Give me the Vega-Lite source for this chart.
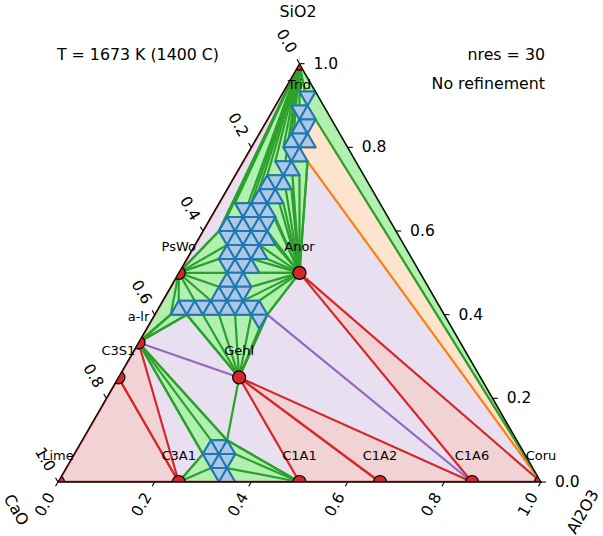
{
  "$schema": "https://vega.github.io/schema/vega-lite/v6.json",
  "width": 603,
  "height": 536,
  "autosize": "none",
  "padding": 0,
  "background": "white",
  "config": {"view": {"stroke": null}, "font": "DejaVu Sans"},
  "datasets": {
    "phases": [
      {"name": "Trid", "x": 0.5, "y": 0.86603},
      {"name": "PsWo", "x": 0.25, "y": 0.43301},
      {"name": "a-lr", "x": 0.16667, "y": 0.28868},
      {"name": "C3S1", "x": 0.125, "y": 0.21651},
      {"name": "Lime", "x": 0, "y": 0},
      {"name": "C3A1", "x": 0.25, "y": 0},
      {"name": "C1A1", "x": 0.5, "y": 0},
      {"name": "C1A2", "x": 0.66667, "y": 0},
      {"name": "C1A6", "x": 0.85714, "y": 0},
      {"name": "Coru", "x": 1, "y": 0},
      {"name": "Anor", "x": 0.5, "y": 0.43301},
      {"name": "Gehl", "x": 0.375, "y": 0.21651}
    ],
    "regions": [
      {"id": "bg", "kind": "lav", "x": [0, 1, 0.5, 0], "y": [0, 0, 0.86603, 0], "k": [0, 1, 2, 3]},
      {"id": "r1", "kind": "red", "x": [0, 0.125, 0.25, 0], "y": [0, 0.21651, 0, 0], "k": [0, 1, 2, 3]},
      {"id": "r2", "kind": "red", "x": [0.125, 0.16667, 0.25, 0.125], "y": [0.21651, 0.28868, 0, 0.21651], "k": [0, 1, 2, 3]},
      {"id": "r3", "kind": "red", "x": [0.375, 0.5, 0.66667, 0.375], "y": [0.21651, 0, 0, 0.21651], "k": [0, 1, 2, 3]},
      {"id": "r4", "kind": "red", "x": [0.375, 0.66667, 0.85714, 0.375], "y": [0.21651, 0, 0, 0.21651], "k": [0, 1, 2, 3]},
      {"id": "r5", "kind": "red", "x": [0.5, 0.85714, 1, 0.5], "y": [0.43301, 0, 0, 0.43301], "k": [0, 1, 2, 3]},
      {"id": "o1", "kind": "org", "x": [1, 0.51667, 0.5, 0.53333, 0.51667, 0.53333, 1], "y": [0, 0.66395, 0.69282, 0.69282, 0.72169, 0.75056, 0], "k": [0, 1, 2, 3, 4, 5, 6]},
      {"id": "gband", "kind": "grn", "x": [0.53333, 0.51667, 0.53333, 1, 0.53333], "y": [0.80829, 0.77942, 0.75056, 0, 0.80829], "k": [0, 1, 2, 3, 4]},
      {"id": "gtrid", "kind": "grn",
       "x": [0.5, 0.53333, 0.5, 0.51667, 0.48333, 0.5, 0.48333, 0.46667, 0.48333, 0.45, 0.46667, 0.43333, 0.41667, 0.4, 0.36667, 0.38333, 0.35, 0.33333, 0.5],
       "y": [0.86603, 0.80829, 0.80829, 0.77942, 0.77942, 0.75056, 0.72169, 0.69282, 0.66395, 0.66395, 0.63509, 0.63509, 0.60622, 0.57735, 0.57735, 0.54848, 0.54848, 0.51962, 0.86603],
       "k": [0, 1, 2, 3, 4, 5, 6, 7, 8, 9, 10, 11, 12, 13, 14, 15, 16, 17, 18]},
      {"id": "gpswo", "kind": "grn",
       "x": [0.25, 0.33333, 0.35, 0.33333, 0.35, 0.33333, 0.31667, 0.28333, 0.25, 0.23333, 0.16667, 0.25],
       "y": [0.43301, 0.51962, 0.49075, 0.46188, 0.43301, 0.40415, 0.37528, 0.37528, 0.37528, 0.34641, 0.28868, 0.43301],
       "k": [0, 1, 2, 3, 4, 5, 6, 7, 8, 9, 10, 11]},
      {"id": "gc2s", "kind": "grn", "x": [0.16667, 0.23333, 0.26667, 0.16667], "y": [0.28868, 0.34641, 0.34641, 0.28868], "k": [0, 1, 2, 3]},
      {"id": "ggehl", "kind": "grn",
       "x": [0.375, 0.26667, 0.3, 0.33333, 0.36667, 0.4, 0.41667, 0.43333, 0.375],
       "y": [0.21651, 0.34641, 0.34641, 0.34641, 0.34641, 0.34641, 0.31754, 0.34641, 0.21651],
       "k": [0, 1, 2, 3, 4, 5, 6, 7, 8]},
      {"id": "ganor", "kind": "grn",
       "x": [0.5, 0.51667, 0.48333, 0.5, 0.46667, 0.48333, 0.45, 0.46667, 0.43333, 0.45, 0.43333, 0.45, 0.41667, 0.43333, 0.4, 0.41667, 0.38333, 0.4, 0.38333, 0.41667, 0.43333, 0.5],
       "y": [0.43301, 0.66395, 0.66395, 0.63509, 0.63509, 0.60622, 0.60622, 0.57735, 0.57735, 0.54848, 0.51962, 0.49075, 0.49075, 0.46188, 0.46188, 0.43301, 0.43301, 0.40415, 0.37528, 0.37528, 0.34641, 0.43301],
       "k": [0, 1, 2, 3, 4, 5, 6, 7, 8, 9, 10, 11, 12, 13, 14, 15, 16, 17, 18, 19, 20, 21]},
      {"id": "gc2slow", "kind": "grn", "x": [0.16667, 0.35, 0.31667, 0.3, 0.16667], "y": [0.28868, 0.0866, 0.0866, 0.05774, 0.28868], "k": [0, 1, 2, 3, 4]},
      {"id": "gc3a1", "kind": "grn", "x": [0.25, 0.3, 0.31667, 0.33333, 0.25], "y": [0, 0.05774, 0.02887, 0, 0], "k": [0, 1, 2, 3, 4]},
      {"id": "gc1a1", "kind": "grn", "x": [0.5, 0.35, 0.36667, 0.35, 0.36667, 0.5], "y": [0, 0.0866, 0.05774, 0.02887, 0, 0], "k": [0, 1, 2, 3, 4, 5]}
    ],
    "spokes": [
      {"s": "Trid", "x2": 0.53333, "y2": 0.80829}, {"s": "Trid", "x2": 0.5, "y2": 0.80829},
      {"s": "Trid", "x2": 0.51667, "y2": 0.77942}, {"s": "Trid", "x2": 0.48333, "y2": 0.77942},
      {"s": "Trid", "x2": 0.5, "y2": 0.75056}, {"s": "Trid", "x2": 0.48333, "y2": 0.72169},
      {"s": "Trid", "x2": 0.46667, "y2": 0.69282}, {"s": "Trid", "x2": 0.48333, "y2": 0.66395},
      {"s": "Trid", "x2": 0.45, "y2": 0.66395}, {"s": "Trid", "x2": 0.46667, "y2": 0.63509},
      {"s": "Trid", "x2": 0.43333, "y2": 0.63509}, {"s": "Trid", "x2": 0.41667, "y2": 0.60622},
      {"s": "Trid", "x2": 0.4, "y2": 0.57735}, {"s": "Trid", "x2": 0.36667, "y2": 0.57735},
      {"s": "Trid", "x2": 0.38333, "y2": 0.54848}, {"s": "Trid", "x2": 0.35, "y2": 0.54848},
      {"s": "Trid", "x2": 0.33333, "y2": 0.51962},
      {"s": "PsWo", "x2": 0.33333, "y2": 0.51962}, {"s": "PsWo", "x2": 0.35, "y2": 0.49075},
      {"s": "PsWo", "x2": 0.33333, "y2": 0.46188}, {"s": "PsWo", "x2": 0.35, "y2": 0.43301},
      {"s": "PsWo", "x2": 0.33333, "y2": 0.40415}, {"s": "PsWo", "x2": 0.31667, "y2": 0.37528},
      {"s": "PsWo", "x2": 0.28333, "y2": 0.37528}, {"s": "PsWo", "x2": 0.25, "y2": 0.37528},
      {"s": "PsWo", "x2": 0.23333, "y2": 0.34641},
      {"s": "a-lr", "x2": 0.23333, "y2": 0.34641}, {"s": "a-lr", "x2": 0.26667, "y2": 0.34641},
      {"s": "a-lr", "x2": 0.35, "y2": 0.0866}, {"s": "a-lr", "x2": 0.31667, "y2": 0.0866},
      {"s": "a-lr", "x2": 0.3, "y2": 0.05774},
      {"s": "Gehl", "x2": 0.26667, "y2": 0.34641}, {"s": "Gehl", "x2": 0.3, "y2": 0.34641},
      {"s": "Gehl", "x2": 0.33333, "y2": 0.34641}, {"s": "Gehl", "x2": 0.36667, "y2": 0.34641},
      {"s": "Gehl", "x2": 0.4, "y2": 0.34641}, {"s": "Gehl", "x2": 0.41667, "y2": 0.31754},
      {"s": "Gehl", "x2": 0.43333, "y2": 0.34641}, {"s": "Gehl", "x2": 0.35, "y2": 0.0866},
      {"s": "Anor", "x2": 0.51667, "y2": 0.66395}, {"s": "Anor", "x2": 0.48333, "y2": 0.66395},
      {"s": "Anor", "x2": 0.5, "y2": 0.63509}, {"s": "Anor", "x2": 0.46667, "y2": 0.63509},
      {"s": "Anor", "x2": 0.48333, "y2": 0.60622}, {"s": "Anor", "x2": 0.45, "y2": 0.60622},
      {"s": "Anor", "x2": 0.46667, "y2": 0.57735}, {"s": "Anor", "x2": 0.43333, "y2": 0.57735},
      {"s": "Anor", "x2": 0.45, "y2": 0.54848}, {"s": "Anor", "x2": 0.43333, "y2": 0.51962},
      {"s": "Anor", "x2": 0.45, "y2": 0.49075}, {"s": "Anor", "x2": 0.41667, "y2": 0.49075},
      {"s": "Anor", "x2": 0.43333, "y2": 0.46188}, {"s": "Anor", "x2": 0.4, "y2": 0.46188},
      {"s": "Anor", "x2": 0.41667, "y2": 0.43301}, {"s": "Anor", "x2": 0.38333, "y2": 0.43301},
      {"s": "Anor", "x2": 0.4, "y2": 0.40415}, {"s": "Anor", "x2": 0.38333, "y2": 0.37528},
      {"s": "Anor", "x2": 0.41667, "y2": 0.37528}, {"s": "Anor", "x2": 0.43333, "y2": 0.34641},
      {"s": "C3A1", "x2": 0.3, "y2": 0.05774}, {"s": "C3A1", "x2": 0.31667, "y2": 0.02887},
      {"s": "C3A1", "x2": 0.33333, "y2": 0},
      {"s": "C1A1", "x2": 0.35, "y2": 0.0866}, {"s": "C1A1", "x2": 0.36667, "y2": 0.05774},
      {"s": "C1A1", "x2": 0.35, "y2": 0.02887}, {"s": "C1A1", "x2": 0.36667, "y2": 0}
    ],
    "liquid": [
      {"id": 1, "x": [0.51667, 0.5, 0.53333, 0.51667], "y": [0.77942, 0.80829, 0.80829, 0.77942], "k": [0, 1, 2, 3]},
      {"id": 2, "x": [0.5, 0.48333, 0.51667, 0.5], "y": [0.75056, 0.77942, 0.77942, 0.75056], "k": [0, 1, 2, 3]},
      {"id": 3, "x": [0.5, 0.53333, 0.51667, 0.5], "y": [0.75056, 0.75056, 0.77942, 0.75056], "k": [0, 1, 2, 3]},
      {"id": 4, "x": [0.48333, 0.51667, 0.5, 0.48333], "y": [0.72169, 0.72169, 0.75056, 0.72169], "k": [0, 1, 2, 3]},
      {"id": 5, "x": [0.51667, 0.5, 0.53333, 0.51667], "y": [0.72169, 0.75056, 0.75056, 0.72169], "k": [0, 1, 2, 3]},
      {"id": 6, "x": [0.46667, 0.5, 0.48333, 0.46667], "y": [0.69282, 0.69282, 0.72169, 0.69282], "k": [0, 1, 2, 3]},
      {"id": 7, "x": [0.5, 0.48333, 0.51667, 0.5], "y": [0.69282, 0.72169, 0.72169, 0.69282], "k": [0, 1, 2, 3]},
      {"id": 8, "x": [0.5, 0.53333, 0.51667, 0.5], "y": [0.69282, 0.69282, 0.72169, 0.69282], "k": [0, 1, 2, 3]},
      {"id": 9, "x": [0.48333, 0.46667, 0.5, 0.48333], "y": [0.66395, 0.69282, 0.69282, 0.66395], "k": [0, 1, 2, 3]},
      {"id": 10, "x": [0.48333, 0.51667, 0.5, 0.48333], "y": [0.66395, 0.66395, 0.69282, 0.66395], "k": [0, 1, 2, 3]},
      {"id": 11, "x": [0.46667, 0.45, 0.48333, 0.46667], "y": [0.63509, 0.66395, 0.66395, 0.63509], "k": [0, 1, 2, 3]},
      {"id": 12, "x": [0.46667, 0.5, 0.48333, 0.46667], "y": [0.63509, 0.63509, 0.66395, 0.63509], "k": [0, 1, 2, 3]},
      {"id": 13, "x": [0.41667, 0.45, 0.43333, 0.41667], "y": [0.60622, 0.60622, 0.63509, 0.60622], "k": [0, 1, 2, 3]},
      {"id": 14, "x": [0.45, 0.43333, 0.46667, 0.45], "y": [0.60622, 0.63509, 0.63509, 0.60622], "k": [0, 1, 2, 3]},
      {"id": 15, "x": [0.45, 0.48333, 0.46667, 0.45], "y": [0.60622, 0.60622, 0.63509, 0.60622], "k": [0, 1, 2, 3]},
      {"id": 16, "x": [0.4, 0.43333, 0.41667, 0.4], "y": [0.57735, 0.57735, 0.60622, 0.57735], "k": [0, 1, 2, 3]},
      {"id": 17, "x": [0.43333, 0.41667, 0.45, 0.43333], "y": [0.57735, 0.60622, 0.60622, 0.57735], "k": [0, 1, 2, 3]},
      {"id": 18, "x": [0.43333, 0.46667, 0.45, 0.43333], "y": [0.57735, 0.57735, 0.60622, 0.57735], "k": [0, 1, 2, 3]},
      {"id": 19, "x": [0.38333, 0.36667, 0.4, 0.38333], "y": [0.54848, 0.57735, 0.57735, 0.54848], "k": [0, 1, 2, 3]},
      {"id": 20, "x": [0.38333, 0.41667, 0.4, 0.38333], "y": [0.54848, 0.54848, 0.57735, 0.54848], "k": [0, 1, 2, 3]},
      {"id": 21, "x": [0.41667, 0.4, 0.43333, 0.41667], "y": [0.54848, 0.57735, 0.57735, 0.54848], "k": [0, 1, 2, 3]},
      {"id": 22, "x": [0.41667, 0.45, 0.43333, 0.41667], "y": [0.54848, 0.54848, 0.57735, 0.54848], "k": [0, 1, 2, 3]},
      {"id": 23, "x": [0.33333, 0.36667, 0.35, 0.33333], "y": [0.51962, 0.51962, 0.54848, 0.51962], "k": [0, 1, 2, 3]},
      {"id": 24, "x": [0.36667, 0.35, 0.38333, 0.36667], "y": [0.51962, 0.54848, 0.54848, 0.51962], "k": [0, 1, 2, 3]},
      {"id": 25, "x": [0.36667, 0.4, 0.38333, 0.36667], "y": [0.51962, 0.51962, 0.54848, 0.51962], "k": [0, 1, 2, 3]},
      {"id": 26, "x": [0.4, 0.38333, 0.41667, 0.4], "y": [0.51962, 0.54848, 0.54848, 0.51962], "k": [0, 1, 2, 3]},
      {"id": 27, "x": [0.4, 0.43333, 0.41667, 0.4], "y": [0.51962, 0.51962, 0.54848, 0.51962], "k": [0, 1, 2, 3]},
      {"id": 28, "x": [0.43333, 0.41667, 0.45, 0.43333], "y": [0.51962, 0.54848, 0.54848, 0.51962], "k": [0, 1, 2, 3]},
      {"id": 29, "x": [0.35, 0.33333, 0.36667, 0.35], "y": [0.49075, 0.51962, 0.51962, 0.49075], "k": [0, 1, 2, 3]},
      {"id": 30, "x": [0.35, 0.38333, 0.36667, 0.35], "y": [0.49075, 0.49075, 0.51962, 0.49075], "k": [0, 1, 2, 3]},
      {"id": 31, "x": [0.38333, 0.36667, 0.4, 0.38333], "y": [0.49075, 0.51962, 0.51962, 0.49075], "k": [0, 1, 2, 3]},
      {"id": 32, "x": [0.38333, 0.41667, 0.4, 0.38333], "y": [0.49075, 0.49075, 0.51962, 0.49075], "k": [0, 1, 2, 3]},
      {"id": 33, "x": [0.41667, 0.4, 0.43333, 0.41667], "y": [0.49075, 0.51962, 0.51962, 0.49075], "k": [0, 1, 2, 3]},
      {"id": 34, "x": [0.41667, 0.45, 0.43333, 0.41667], "y": [0.49075, 0.49075, 0.51962, 0.49075], "k": [0, 1, 2, 3]},
      {"id": 35, "x": [0.33333, 0.36667, 0.35, 0.33333], "y": [0.46188, 0.46188, 0.49075, 0.46188], "k": [0, 1, 2, 3]},
      {"id": 36, "x": [0.36667, 0.35, 0.38333, 0.36667], "y": [0.46188, 0.49075, 0.49075, 0.46188], "k": [0, 1, 2, 3]},
      {"id": 37, "x": [0.36667, 0.4, 0.38333, 0.36667], "y": [0.46188, 0.46188, 0.49075, 0.46188], "k": [0, 1, 2, 3]},
      {"id": 38, "x": [0.4, 0.38333, 0.41667, 0.4], "y": [0.46188, 0.49075, 0.49075, 0.46188], "k": [0, 1, 2, 3]},
      {"id": 39, "x": [0.4, 0.43333, 0.41667, 0.4], "y": [0.46188, 0.46188, 0.49075, 0.46188], "k": [0, 1, 2, 3]},
      {"id": 40, "x": [0.35, 0.33333, 0.36667, 0.35], "y": [0.43301, 0.46188, 0.46188, 0.43301], "k": [0, 1, 2, 3]},
      {"id": 41, "x": [0.35, 0.38333, 0.36667, 0.35], "y": [0.43301, 0.43301, 0.46188, 0.43301], "k": [0, 1, 2, 3]},
      {"id": 42, "x": [0.38333, 0.36667, 0.4, 0.38333], "y": [0.43301, 0.46188, 0.46188, 0.43301], "k": [0, 1, 2, 3]},
      {"id": 43, "x": [0.38333, 0.41667, 0.4, 0.38333], "y": [0.43301, 0.43301, 0.46188, 0.43301], "k": [0, 1, 2, 3]},
      {"id": 44, "x": [0.33333, 0.36667, 0.35, 0.33333], "y": [0.40415, 0.40415, 0.43301, 0.40415], "k": [0, 1, 2, 3]},
      {"id": 45, "x": [0.36667, 0.35, 0.38333, 0.36667], "y": [0.40415, 0.43301, 0.43301, 0.40415], "k": [0, 1, 2, 3]},
      {"id": 46, "x": [0.36667, 0.4, 0.38333, 0.36667], "y": [0.40415, 0.40415, 0.43301, 0.40415], "k": [0, 1, 2, 3]},
      {"id": 47, "x": [0.31667, 0.35, 0.33333, 0.31667], "y": [0.37528, 0.37528, 0.40415, 0.37528], "k": [0, 1, 2, 3]},
      {"id": 48, "x": [0.35, 0.33333, 0.36667, 0.35], "y": [0.37528, 0.40415, 0.40415, 0.37528], "k": [0, 1, 2, 3]},
      {"id": 49, "x": [0.35, 0.38333, 0.36667, 0.35], "y": [0.37528, 0.37528, 0.40415, 0.37528], "k": [0, 1, 2, 3]},
      {"id": 50, "x": [0.38333, 0.36667, 0.4, 0.38333], "y": [0.37528, 0.40415, 0.40415, 0.37528], "k": [0, 1, 2, 3]},
      {"id": 51, "x": [0.23333, 0.26667, 0.25, 0.23333], "y": [0.34641, 0.34641, 0.37528, 0.34641], "k": [0, 1, 2, 3]},
      {"id": 52, "x": [0.26667, 0.25, 0.28333, 0.26667], "y": [0.34641, 0.37528, 0.37528, 0.34641], "k": [0, 1, 2, 3]},
      {"id": 53, "x": [0.26667, 0.3, 0.28333, 0.26667], "y": [0.34641, 0.34641, 0.37528, 0.34641], "k": [0, 1, 2, 3]},
      {"id": 54, "x": [0.3, 0.28333, 0.31667, 0.3], "y": [0.34641, 0.37528, 0.37528, 0.34641], "k": [0, 1, 2, 3]},
      {"id": 55, "x": [0.3, 0.33333, 0.31667, 0.3], "y": [0.34641, 0.34641, 0.37528, 0.34641], "k": [0, 1, 2, 3]},
      {"id": 56, "x": [0.33333, 0.31667, 0.35, 0.33333], "y": [0.34641, 0.37528, 0.37528, 0.34641], "k": [0, 1, 2, 3]},
      {"id": 57, "x": [0.33333, 0.36667, 0.35, 0.33333], "y": [0.34641, 0.34641, 0.37528, 0.34641], "k": [0, 1, 2, 3]},
      {"id": 58, "x": [0.36667, 0.35, 0.38333, 0.36667], "y": [0.34641, 0.37528, 0.37528, 0.34641], "k": [0, 1, 2, 3]},
      {"id": 59, "x": [0.36667, 0.4, 0.38333, 0.36667], "y": [0.34641, 0.34641, 0.37528, 0.34641], "k": [0, 1, 2, 3]},
      {"id": 60, "x": [0.4, 0.38333, 0.41667, 0.4], "y": [0.34641, 0.37528, 0.37528, 0.34641], "k": [0, 1, 2, 3]},
      {"id": 61, "x": [0.4, 0.43333, 0.41667, 0.4], "y": [0.34641, 0.34641, 0.37528, 0.34641], "k": [0, 1, 2, 3]},
      {"id": 62, "x": [0.41667, 0.4, 0.43333, 0.41667], "y": [0.31754, 0.34641, 0.34641, 0.31754], "k": [0, 1, 2, 3]},
      {"id": 63, "x": [0.3, 0.33333, 0.31667, 0.3], "y": [0.05774, 0.05774, 0.0866, 0.05774], "k": [0, 1, 2, 3]},
      {"id": 64, "x": [0.33333, 0.31667, 0.35, 0.33333], "y": [0.05774, 0.0866, 0.0866, 0.05774], "k": [0, 1, 2, 3]},
      {"id": 65, "x": [0.33333, 0.36667, 0.35, 0.33333], "y": [0.05774, 0.05774, 0.0866, 0.05774], "k": [0, 1, 2, 3]},
      {"id": 66, "x": [0.31667, 0.3, 0.33333, 0.31667], "y": [0.02887, 0.05774, 0.05774, 0.02887], "k": [0, 1, 2, 3]},
      {"id": 67, "x": [0.31667, 0.35, 0.33333, 0.31667], "y": [0.02887, 0.02887, 0.05774, 0.02887], "k": [0, 1, 2, 3]},
      {"id": 68, "x": [0.35, 0.33333, 0.36667, 0.35], "y": [0.02887, 0.05774, 0.05774, 0.02887], "k": [0, 1, 2, 3]},
      {"id": 69, "x": [0.33333, 0.31667, 0.35, 0.33333], "y": [0, 0.02887, 0.02887, 0], "k": [0, 1, 2, 3]},
      {"id": 70, "x": [0.33333, 0.36667, 0.35, 0.33333], "y": [0, 0, 0.02887, 0], "k": [0, 1, 2, 3]}
    ],
    "masks": [
      {"id": "left", "x": [0, 0.5, 0.5, -0.2, -0.2, 0], "y": [0, 0.86603, 1.1, 1.1, 0, 0], "k": [0, 1, 2, 3, 4, 5]},
      {"id": "right", "x": [1, 0.5, 0.5, 1.3, 1.3, 1], "y": [0, 0.86603, 1.1, 1.1, 0, 0], "k": [0, 1, 2, 3, 4, 5]},
      {"id": "bottom", "x": [-0.2, 1.3, 1.3, -0.2, -0.2], "y": [0, 0, -0.2, -0.2, 0], "k": [0, 1, 2, 3, 4]}
    ],
    "ticks": [
      {"x": 0, "y": 0, "x2": -0.0052, "y2": -0.009},
      {"x": 0.2, "y": 0, "x2": 0.1948, "y2": -0.009},
      {"x": 0.4, "y": 0, "x2": 0.3948, "y2": -0.009},
      {"x": 0.6, "y": 0, "x2": 0.5948, "y2": -0.009},
      {"x": 0.8, "y": 0, "x2": 0.7948, "y2": -0.009},
      {"x": 1, "y": 0, "x2": 0.9948, "y2": -0.009},
      {"x": 0.5, "y": 0.86603, "x2": 0.4948, "y2": 0.87503},
      {"x": 0.4, "y": 0.69282, "x2": 0.3948, "y2": 0.70182},
      {"x": 0.3, "y": 0.51962, "x2": 0.2948, "y2": 0.52862},
      {"x": 0.2, "y": 0.34641, "x2": 0.1948, "y2": 0.35541},
      {"x": 0.1, "y": 0.17321, "x2": 0.0948, "y2": 0.18221},
      {"x": 0, "y": 0, "x2": -0.0052, "y2": 0.009},
      {"x": 1, "y": 0, "x2": 1.0104, "y2": 0},
      {"x": 0.9, "y": 0.17321, "x2": 0.9104, "y2": 0.17321},
      {"x": 0.8, "y": 0.34641, "x2": 0.8104, "y2": 0.34641},
      {"x": 0.7, "y": 0.51962, "x2": 0.7104, "y2": 0.51962},
      {"x": 0.6, "y": 0.69282, "x2": 0.6104, "y2": 0.69282},
      {"x": 0.5, "y": 0.86603, "x2": 0.5104, "y2": 0.86603}
    ],
    "ticklabels": [
      {"side": "b", "t": "0.0", "x": -0.0269, "y": -0.0466},
      {"side": "b", "t": "0.2", "x": 0.1731, "y": -0.0466},
      {"side": "b", "t": "0.4", "x": 0.3731, "y": -0.0466},
      {"side": "b", "t": "0.6", "x": 0.5731, "y": -0.0466},
      {"side": "b", "t": "0.8", "x": 0.7731, "y": -0.0466},
      {"side": "b", "t": "1.0", "x": 0.9731, "y": -0.0466},
      {"side": "l", "t": "0.0", "x": 0.4731, "y": 0.9126},
      {"side": "l", "t": "0.2", "x": 0.3731, "y": 0.7394},
      {"side": "l", "t": "0.4", "x": 0.2731, "y": 0.5662},
      {"side": "l", "t": "0.6", "x": 0.1731, "y": 0.393},
      {"side": "l", "t": "0.8", "x": 0.0731, "y": 0.2198},
      {"side": "l", "t": "1.0", "x": -0.0269, "y": 0.0466},
      {"side": "r", "t": "0.0", "x": 1.029, "y": 0},
      {"side": "r", "t": "0.2", "x": 0.929, "y": 0.17321},
      {"side": "r", "t": "0.4", "x": 0.829, "y": 0.34641},
      {"side": "r", "t": "0.6", "x": 0.729, "y": 0.51962},
      {"side": "r", "t": "0.8", "x": 0.629, "y": 0.69282},
      {"side": "r", "t": "1.0", "x": 0.529, "y": 0.86603}
    ]
  },
  "encoding": {
    "x": {"field": "x", "type": "quantitative", "scale": {"domain": [-0.1201, 1.1284], "nice": false, "zero": false}, "axis": null},
    "y": {"field": "y", "type": "quantitative", "scale": {"domain": [-0.1118, 0.9979], "nice": false, "zero": false}, "axis": null}
  },
  "layer": [
    {
      "data": {"name": "regions"},
      "transform": [{"filter": "datum.kind === 'lav'"}, {"flatten": ["x", "y", "k"]}],
      "mark": {"type": "line", "fill": "#e8dff1", "strokeOpacity": 0},
      "encoding": {"detail": {"field": "id"}, "order": {"field": "k"}}
    },
    {
      "data": {"name": "regions"},
      "transform": [{"filter": "datum.kind === 'red'"}, {"flatten": ["x", "y", "k"]}],
      "mark": {"type": "line", "fill": "#f2d3d5", "stroke": "#d62728", "strokeWidth": 2.2, "strokeJoin": "round"},
      "encoding": {"detail": {"field": "id"}, "order": {"field": "k"}}
    },
    {
      "data": {"name": "regions"},
      "transform": [{"filter": "datum.kind === 'org'"}, {"flatten": ["x", "y", "k"]}],
      "mark": {"type": "line", "fill": "#fde4cf", "stroke": "#ff7f0e", "strokeWidth": 2.2, "strokeJoin": "round"},
      "encoding": {"detail": {"field": "id"}, "order": {"field": "k"}}
    },
    {
      "data": {"values": [
        {"x": 0.16667, "y": 0.28868, "x2": 0.375, "y2": 0.21651},
        {"x": 0.43333, "y": 0.34641, "x2": 0.85714, "y2": 0}
      ]},
      "mark": {"type": "rule", "stroke": "#9467bd", "strokeWidth": 2.2},
      "encoding": {"x2": {"field": "x2"}, "y2": {"field": "y2"}}
    },
    {
      "data": {"name": "regions"},
      "transform": [{"filter": "datum.kind === 'grn'"}, {"flatten": ["x", "y", "k"]}],
      "mark": {"type": "line", "fill": "#b2f0b2", "stroke": "#2ca02c", "strokeWidth": 2.2, "strokeJoin": "round"},
      "encoding": {"detail": {"field": "id"}, "order": {"field": "k"}}
    },
    {
      "data": {"name": "spokes"},
      "transform": [{"lookup": "s", "from": {"data": {"name": "phases"}, "key": "name", "fields": ["x", "y"]}}],
      "mark": {"type": "rule", "stroke": "#2ca02c", "strokeWidth": 2.2},
      "encoding": {"x2": {"field": "x2"}, "y2": {"field": "y2"}}
    },
    {
      "data": {"name": "liquid"},
      "transform": [{"flatten": ["x", "y", "k"]}],
      "mark": {"type": "line", "fill": "#adc8e4", "stroke": "#1f77b4", "strokeWidth": 2, "strokeJoin": "round"},
      "encoding": {"detail": {"field": "id"}, "order": {"field": "k"}}
    },
    {
      "data": {"values": [
        {"x": 0.5, "y": 0.86603, "k": 0},
        {"x": 0, "y": 0, "k": 1},
        {"x": 1, "y": 0, "k": 2}
      ]},
      "mark": {"type": "line", "stroke": "#d62728", "strokeWidth": 2.5},
      "encoding": {"order": {"field": "k"}}
    },
    {
      "data": {"name": "phases"},
      "mark": {"type": "circle", "size": 170, "fill": "#d62728", "stroke": "black", "strokeWidth": 1.2, "opacity": 1},
      "encoding": {}
    },
    {
      "data": {"name": "masks"},
      "transform": [{"flatten": ["x", "y", "k"]}],
      "mark": {"type": "line", "fill": "white", "strokeOpacity": 0},
      "encoding": {"detail": {"field": "id"}, "order": {"field": "k"}}
    },
    {
      "data": {"values": [
        {"x": 0, "y": 0, "k": 0},
        {"x": 1, "y": 0, "k": 1},
        {"x": 0.5, "y": 0.86603, "k": 2},
        {"x": 0, "y": 0, "k": 3}
      ]},
      "mark": {"type": "line", "stroke": "black", "strokeWidth": 1.3},
      "encoding": {"order": {"field": "k"}}
    },
    {
      "data": {"name": "ticks"},
      "mark": {"type": "rule", "stroke": "black", "strokeWidth": 1.1},
      "encoding": {"x2": {"field": "x2"}, "y2": {"field": "y2"}}
    },
    {
      "data": {"name": "ticklabels"},
      "transform": [{"filter": "datum.side === 'b'"}],
      "mark": {"type": "text", "angle": 300, "align": "center", "baseline": "middle", "fontSize": 15.5, "color": "black"},
      "encoding": {"text": {"field": "t"}}
    },
    {
      "data": {"name": "ticklabels"},
      "transform": [{"filter": "datum.side === 'l'"}],
      "mark": {"type": "text", "angle": 60, "align": "center", "baseline": "middle", "fontSize": 15.5, "color": "black"},
      "encoding": {"text": {"field": "t"}}
    },
    {
      "data": {"name": "ticklabels"},
      "transform": [{"filter": "datum.side === 'r'"}],
      "mark": {"type": "text", "align": "left", "baseline": "middle", "fontSize": 15.5, "color": "black"},
      "encoding": {"text": {"field": "t"}}
    },
    {
      "data": {"name": "phases"},
      "transform": [{"filter": "datum.name !== 'Trid'"}],
      "mark": {"type": "text", "dy": -26, "align": "center", "baseline": "middle", "fontSize": 13, "color": "black"},
      "encoding": {"text": {"field": "name"}}
    },
    {
      "data": {"name": "phases"},
      "transform": [{"filter": "datum.name === 'Trid'"}],
      "mark": {"type": "text", "dy": 21, "align": "center", "baseline": "middle", "fontSize": 13, "color": "black"},
      "encoding": {"text": {"field": "name"}}
    },
    {
      "data": {"values": [
        {"t": "SiO2", "x": 0.4969, "y": 0.9731},
        {"t": "T = 1673 K (1400 C)", "x": 0.1656, "y": 0.884}
      ]},
      "mark": {"type": "text", "align": "center", "baseline": "middle", "fontSize": 15.8, "color": "black"},
      "encoding": {"text": {"field": "t"}}
    },
    {
      "data": {"values": [
        {"t": "nres = 30", "x": 1.0083, "y": 0.884},
        {"t": "No refinement", "x": 1.0083, "y": 0.824}
      ]},
      "mark": {"type": "text", "align": "right", "baseline": "middle", "fontSize": 15.8, "color": "black"},
      "encoding": {"text": {"field": "t"}}
    },
    {
      "data": {"values": [{"t": "CaO", "x": -0.087, "y": -0.058}]},
      "mark": {"type": "text", "angle": 60, "align": "center", "baseline": "middle", "fontSize": 15.8, "color": "black"},
      "encoding": {"text": {"field": "t"}}
    },
    {
      "data": {"values": [{"t": "Al2O3", "x": 1.087, "y": -0.062}]},
      "mark": {"type": "text", "angle": 300, "align": "center", "baseline": "middle", "fontSize": 15.8, "color": "black"},
      "encoding": {"text": {"field": "t"}}
    }
  ]
}
